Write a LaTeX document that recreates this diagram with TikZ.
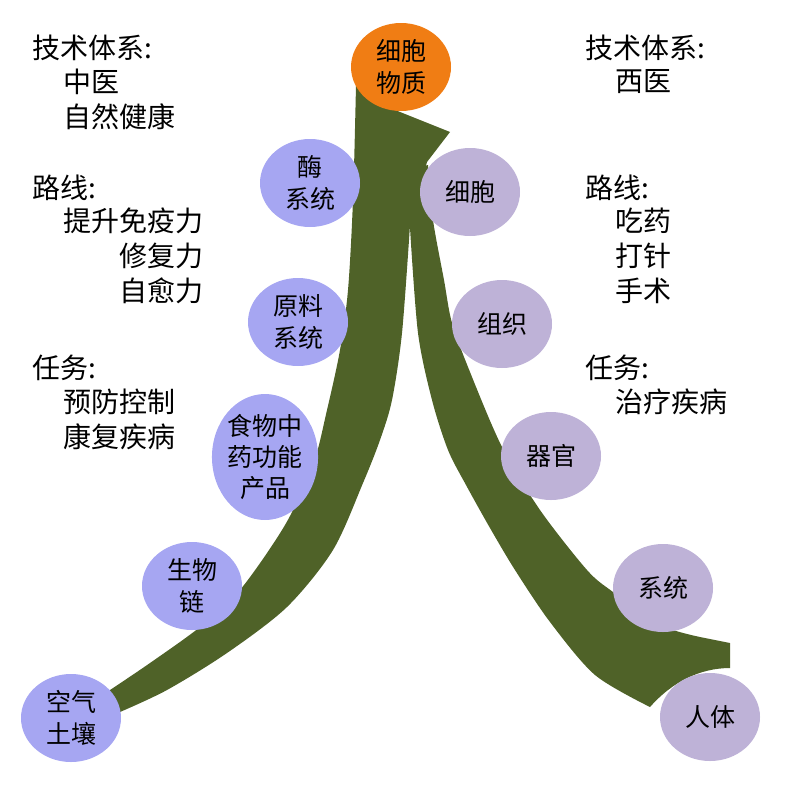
\documentclass[tikz,border=0pt]{standalone}
\usepackage{fontspec}
\newfontfamily\cjk{Noto Sans CJK SC}
\usetikzlibrary{shapes.geometric}
\definecolor{bandgruen}{RGB}{79,98,40}
\definecolor{kernorange}{RGB}{240,125,20}
\definecolor{linksblau}{RGB}{166,166,242}
\definecolor{rechtslila}{RGB}{190,178,215}

\begin{document}
\begin{tikzpicture}
    [x=0.5pt, y=-0.5pt,
    line join=round,
    band/.style={fill=bandgruen},
    kreis/.style={ellipse, minimum width=50pt, minimum height=44pt,
        inner sep=0pt, align=center,
        font=\cjk\fontsize{12.5}{16}\selectfont},
    kreisL/.style={kreis, fill=linksblau},
    kreisR/.style={kreis, fill=rechtslila},
    zeile/.style={anchor=west, inner sep=0pt,
        font=\cjk\fontsize{14}{17}\selectfont}]

    \useasboundingbox (0,0) rectangle (790,787);

    % Baender
    \fill[band] (408,170) -- plot[smooth] coordinates {(410,228) (418,333) (432,400) (448,450) (466,485) (490,528) (515,570) (550,622) (595,675) (650,707)}
        .. controls (672,682) and (700,668) .. (730,668) -- (730,643)
        -- plot[smooth] coordinates {(700,637) (660,625) (613,592) (587,570) (540,510) (502,447) (470,372) (452,323) (444,280) (433,220) (428,165)}
        -- cycle;
    \fill[band] (95,702) -- plot[smooth] coordinates {(110,690) (150,663) (200,627) (240,590) (285,525) (313,465) (327,410) (340,350) (348,290) (353,200) (356,85)}
        -- (372,50) -- (380,104) -- (450,132) -- (427,162)
        -- plot[smooth] coordinates {(410,225) (402,333) (392,400) (380,440) (363,483) (333,550) (287,607) (227,653) (167,690) (120,712)}
        -- (100,722) -- cycle;

    % Kreise links
    \node[kreis, fill=kernorange] (kern) at (401,67) {细胞\\物质};
    \node[kreisL] (enzym)    at (310,183) {酶\\系统};
    \node[kreisL] (rohstoff) at (298,322) {原料\\系统};
    \node[kreisL, minimum height=63pt, font=\cjk\fontsize{12.5}{15.5}\selectfont] (nahrung) at (265,457) {食物中\\药功能\\产品};
    \node[kreisL] (kette)    at (192,586) {生物\\链};
    \node[kreisL] (boden)    at (71,718)  {空气\\土壤};

    % Kreise rechts
    \node[kreisR] (zelle)  at (470,192) {细胞};
    \node[kreisR] (gewebe) at (502,324) {组织};
    \node[kreisR] (organ)  at (551,456) {器官};
    \node[kreisR] (system) at (663,588) {系统};
    \node[kreisR] (mensch) at (710,717) {人体};

    % Text links
    \node[zeile] (lsys)   at (32,48)   {技术体系:};
    \node[zeile] (lsysa)  at (63,82)   {中医};
    \node[zeile] (lsysb)  at (63,117)  {自然健康};
    \node[zeile] (lweg)   at (32,188)  {路线:};
    \node[zeile] (lwega)  at (63,221)  {提升免疫力};
    \node[zeile] (lwegb)  at (119,256) {修复力};
    \node[zeile] (lwegc)  at (119,291) {自愈力};
    \node[zeile] (lauf)   at (32,368)  {任务:};
    \node[zeile] (laufa)  at (63,402)  {预防控制};
    \node[zeile] (laufb)  at (63,437)  {康复疾病};

    % Text rechts
    \node[zeile] (rsys)   at (585,48)  {技术体系:};
    \node[zeile] (rsysa)  at (615,82)  {西医};
    \node[zeile] (rweg)   at (585,188) {路线:};
    \node[zeile] (rwega)  at (615,221) {吃药};
    \node[zeile] (rwegb)  at (615,256) {打针};
    \node[zeile] (rwegc)  at (615,291) {手术};
    \node[zeile] (rauf)   at (585,368) {任务:};
    \node[zeile] (raufa)  at (615,402) {治疗疾病};
\end{tikzpicture}
\end{document}
